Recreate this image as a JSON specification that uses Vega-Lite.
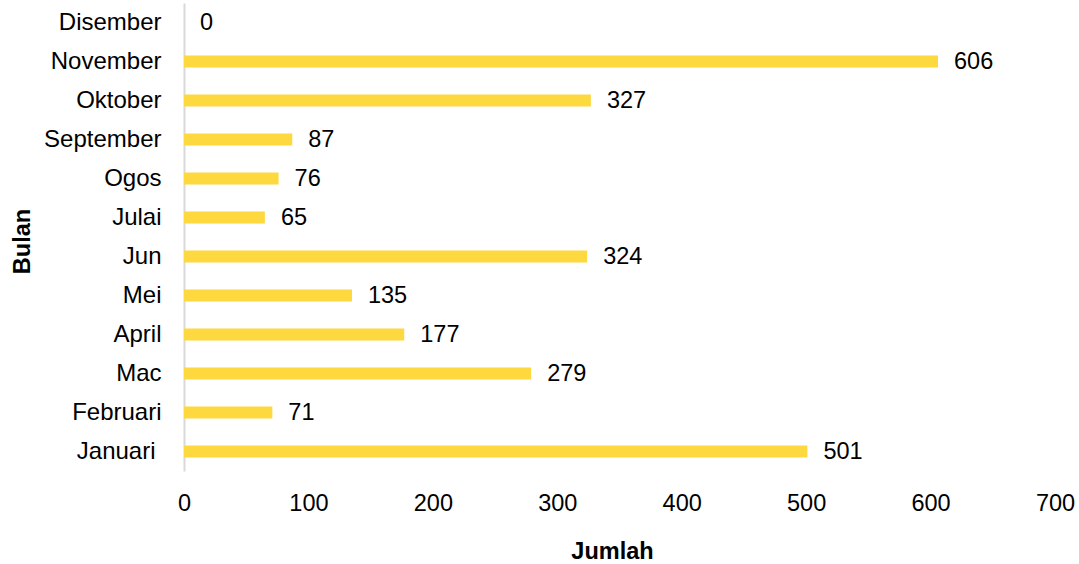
{
  "$schema": "https://vega.github.io/schema/vega-lite/v6.json",
  "width": 871,
  "height": 468,
  "autosize": {"type": "none"},
  "padding": {"left": 184, "top": 3, "right": 24, "bottom": 93},
  "background": "white",
  "config": {"view": {"stroke": null}, "font": "Liberation Sans"},
  "data": {"values": [
    {"bulan": "Disember", "jumlah": 0},
    {"bulan": "November", "jumlah": 606},
    {"bulan": "Oktober", "jumlah": 327},
    {"bulan": "September", "jumlah": 87},
    {"bulan": "Ogos", "jumlah": 76},
    {"bulan": "Julai", "jumlah": 65},
    {"bulan": "Jun", "jumlah": 324},
    {"bulan": "Mei", "jumlah": 135},
    {"bulan": "April", "jumlah": 177},
    {"bulan": "Mac", "jumlah": 279},
    {"bulan": "Februari", "jumlah": 71},
    {"bulan": "Januari", "jumlah": 501}
  ]},
  "encoding": {
    "y": {
      "field": "bulan", "type": "nominal", "sort": null,
      "scale": {"paddingInner": 0.69, "paddingOuter": 0.345},
      "axis": {
        "title": "Bulan", "titleFont": "Liberation Sans", "titleFontSize": 23.5, "titleFontWeight": "bold", "titleColor": "black",
        "titleX": -155, "titleY": 238, "titleAngle": -90, "titleBaseline": "alphabetic", "titleAlign": "center",
        "labelFont": "Liberation Sans", "labelFontSize": 24, "labelColor": "black",
        "labelPadding": {"condition": {"test": "datum.value === 'Januari'", "value": 29}, "value": 23},
        "ticks": false, "domainColor": "#d9d9d9", "domainWidth": 2, "grid": false
      }
    },
    "x": {
      "field": "jumlah", "type": "quantitative",
      "scale": {"domain": [0, 700], "nice": false},
      "axis": {
        "title": "Jumlah", "titleFont": "Liberation Sans", "titleFontSize": 23.5, "titleFontWeight": "bold", "titleColor": "black",
        "titleX": 428, "titleY": 87, "titleBaseline": "alphabetic", "titleAlign": "center",
        "values": [0, 100, 200, 300, 400, 500, 600, 700],
        "labelFont": "Liberation Sans", "labelFontSize": 23.5, "labelColor": "black", "labelPadding": 39,
        "labelBaseline": "alphabetic", "labelFlush": false,
        "ticks": false, "domain": false, "grid": false
      }
    }
  },
  "layer": [
    {"mark": {"type": "bar", "color": "#FED83F"}},
    {"mark": {"type": "text", "align": "left", "baseline": "middle", "dx": 16, "fontSize": 23.5, "color": "black", "font": "Liberation Sans"},
     "encoding": {"text": {"field": "jumlah", "type": "quantitative"}}}
  ]
}
